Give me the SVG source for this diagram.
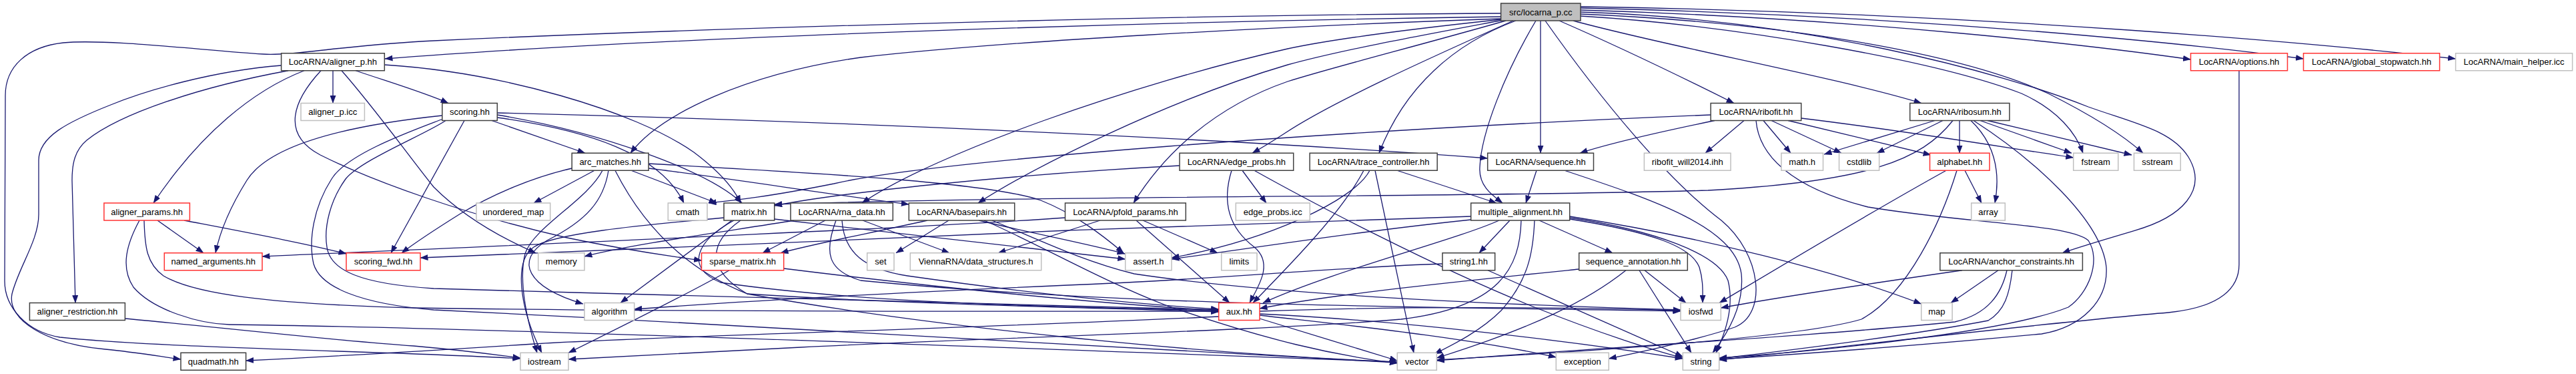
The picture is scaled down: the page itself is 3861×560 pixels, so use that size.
<svg xmlns="http://www.w3.org/2000/svg" width="3861" height="560" viewBox="0 0 3861 560">
<style>
.e{fill:none;stroke:#191970;stroke-width:1.3;marker-end:url(#a)}
rect{stroke-width:1.5}
.nb{fill:#fff;stroke:#404040}
.ng{fill:#fff;stroke:#bfbfbf}
.nr{fill:#fff;stroke:#ff3333}
.root{fill:#bfbfbf;stroke:#404040}
text{font-family:"Liberation Sans",Arial,Helvetica,sans-serif;font-size:13px;text-anchor:middle;fill:#000}
</style>
<defs>
<marker id="a" markerWidth="12" markerHeight="9" refX="11.5" refY="4.5" orient="auto" markerUnits="userSpaceOnUse"><path d="M0,0 L12,4.5 L0,9 z" fill="#191970"/></marker>
</defs>
<rect x="0" y="0" width="3861" height="560" fill="#fff" style="stroke:none"/>
<g id="edges">
<path class="e" d="M2250,25 C1700,33 1000,55 577,88"/>
<path class="e" d="M2250,20 C1800,22 1100,40 650,61 C520,67 440,84 394,81 C300,75 160,58 95,64 C40,70 8,100 8,143 L7,421 C7,460 40,497 90,505 C250,522 600,526 780,537"/>
<path class="e" d="M421.6,98 C320,106 220,135 166,157 C100,183 58,205 58,240 L58,321 C58,360 28,400 18,440 C10,480 70,515 158,523 C200,527 235,533 271,538"/>
<path class="e" d="M2250,28 C1900,40 1500,62 1290,86 C1120,110 990,170 945,229.25"/>
<path class="e" d="M2251,29 C2100,45 2000,58 1930,73 C1700,125 1400,230 1292,304"/>
<path class="e" d="M2253,30 C2120,55 2010,75 1930,97 C1750,150 1550,250 1466,304"/>
<path class="e" d="M2257,31 C2120,70 2000,100 1930,122 C1820,160 1745,230 1699,304"/>
<path class="e" d="M2268,31 C2170,75 2000,150 1925,200 C1905,213 1890,222 1877,229.25"/>
<path class="e" d="M2272,31 C2180,65 2105,130 2067,229.25"/>
<path class="e" d="M2302,31 C2255,110 2220,200 2218,250 C2216,278 2236,292 2252,304"/>
<path class="e" d="M2309,31 L2309,229.25"/>
<path class="e" d="M2316,31 C2400,150 2500,270 2580,330 C2640,380 2650,470 2600,490 C2540,510 2460,527 2411.3,537"/>
<path class="e" d="M2337,31 C2450,80 2540,125 2599,154.5"/>
<path class="e" d="M2358,31 C2500,70 2750,115 2880,154.5"/>
<path class="e" d="M2369,24 C2600,38 2900,90 3030,140 C3085,165 3112,200 3122,229.25"/>
<path class="e" d="M2369,21 C2700,35 2950,85 3070,140 C3140,175 3185,205 3212,229.25"/>
<path class="e" d="M2369,18 C2700,28 3000,108 3130,160 C3200,185 3255,195 3280,235 C3310,285 3270,325 3200,345 C3150,360 3115,370 3091,378.75"/>
<path class="e" d="M2369,15 C2800,28 3150,70 3283.5,89"/>
<path class="e" d="M2369,12 C2900,24 3300,68 3452.5,88"/>
<path class="e" d="M2369,10 C3000,20 3500,68 3680.6,88"/>
<path class="e" d="M499,105.75 L499,154.5"/>
<path class="e" d="M456,105.75 C380,135 300,200 230,304"/>
<path class="e" d="M432,105.75 C300,130 180,170 130,210 C112,225 108,245 108,270 L113,453.5"/>
<path class="e" d="M533,105.75 C590,125 640,140 672,154.5"/>
<path class="e" d="M576.3,97 C750,108 950,165 1040,228 C1080,258 1100,282 1110,304"/>
<path class="e" d="M481,105.75 C440,150 420,200 480,232 C560,272 700,322 850,356 C950,377 1010,384 1051.5,390"/>
<path class="e" d="M512,105.75 C560,160 610,230 650,280 C700,330 760,360 803,378.75"/>
<path class="e" d="M737,180.5 L877,229.25"/>
<path class="e" d="M662.8,173 C500,190 400,222 370,270 C345,310 330,345 323,378.75"/>
<path class="e" d="M696,180.5 L586,378.75"/>
<path class="e" d="M745.3,176 C880,195 990,230 1025,304"/>
<path class="e" d="M745.3,172 C900,198 1060,255 1112,304"/>
<path class="e" d="M745.3,169 C1200,180 1800,205 2229.7,237"/>
<path class="e" d="M668,180.5 C640,200 540,240 518,268 C495,300 485,340 490,370 C495,405 540,425 650,432 C1100,445 1600,458 1826.7,464"/>
<path class="e" d="M664,178 C620,195 520,230 497,268 C470,310 462,360 470,395 C480,430 540,455 650,464 C1200,490 1800,530 2094.3,543"/>
<path class="e" d="M891,255.25 L800,304"/>
<path class="e" d="M857.2,252 C800,265 740,290 690,320 C650,345 620,365 602,378.75"/>
<path class="e" d="M903,255.25 C880,300 800,340 787,380 C777,420 790,480 805,528.25"/>
<path class="e" d="M912,255.25 C905,300 880,330 820,360 C770,390 790,430 874,455"/>
<path class="e" d="M922,255.25 C960,330 1020,400 1120,440 C1400,458 1700,462 1826.7,467"/>
<path class="e" d="M946,255.25 L1074,304"/>
<path class="e" d="M972.1,252 C1100,268 1250,292 1362.3,306"/>
<path class="e" d="M972.1,245 C1200,258 1480,272 1560,300 C1610,320 1650,350 1684,378.75"/>
<path class="e" d="M1097,330 L930,453.5"/>
<path class="e" d="M1085,326 C950,338 830,350 800,370 C770,390 778,460 812,528.25"/>
<path class="e" d="M1160.7,328 C1350,350 1550,372 1686.7,388"/>
<path class="e" d="M1100,330 C1045,360 1025,400 1080,423 C1300,455 1600,460 1826.7,465"/>
<path class="e" d="M1110,330 C1060,365 1060,405 1120,440 C1400,490 1800,530 2094.3,542"/>
<path class="e" d="M1237,330 L1143,378.75"/>
<path class="e" d="M1293,330 L1423,378.75"/>
<path class="e" d="M1190,330 C1100,345 950,365 876,384"/>
<path class="e" d="M1262,330 C1265,378 1295,403 1360,413 C1550,440 1700,455 1826.7,463"/>
<path class="e" d="M1253,330 C1235,378 1240,405 1290,420 C1700,460 2200,460 2519,466"/>
<path class="e" d="M1422,330 L1343,378.75"/>
<path class="e" d="M1390,330 C1300,350 1220,365 1170,378.75"/>
<path class="e" d="M1467,330 C1550,350 1630,365 1686,380"/>
<path class="e" d="M1475,330 C1550,362 1650,420 1750,458 C1900,510 2000,532 2094.3,544"/>
<path class="e" d="M1487,330 C1560,360 1620,390 1700,410 C1900,440 2200,455 2519,464"/>
<path class="e" d="M1713,330 L1825,378.75"/>
<path class="e" d="M1703,330 L1843,453.5"/>
<path class="e" d="M1649,330 L1496,378.75"/>
<path class="e" d="M1596.5,326 C1400,340 800,366 393,384"/>
<path class="e" d="M1862,255.25 L1898,304"/>
<path class="e" d="M1846,255.25 C1832,300 1840,340 1880,370 C1910,395 1885,430 1873,453.5"/>
<path class="e" d="M1768,248 C1500,262 1250,290 1160.7,308"/>
<path class="e" d="M1880,255.25 C1960,300 2150,400 2300,460 C2400,500 2480,525 2522.3,536"/>
<path class="e" d="M2094,255.25 L2243,304"/>
<path class="e" d="M2061,255.25 L2119,528.25"/>
<path class="e" d="M2044,255.25 C2010,320 1930,400 1878,453.5"/>
<path class="e" d="M2053,255.25 C2030,300 1900,360 1756,386"/>
<path class="e" d="M2303,255.25 L2287,304"/>
<path class="e" d="M2345,255.25 C2480,300 2600,340 2610,410 C2615,460 2585,505 2567,528.25"/>
<path class="e" d="M2263,330 L2217,378.75"/>
<path class="e" d="M2307,330 L2417,378.75"/>
<path class="e" d="M2300,330 C2298,380 2290,420 2250,465 C2220,495 2180,515 2150,530"/>
<path class="e" d="M2352.7,328 C2480,348 2535,370 2547,400 C2553,420 2552,435 2552,453.5"/>
<path class="e" d="M2352.7,326 C2480,345 2575,380 2590,420 C2600,460 2585,500 2572,528.25"/>
<path class="e" d="M2352.7,324 C2550,355 2750,405 2879.7,455"/>
<path class="e" d="M2247,330 C2180,360 2000,405 1893,453.5"/>
<path class="e" d="M2204.7,329 C2050,345 1900,368 1756,388"/>
<path class="e" d="M2204.7,324 C2000,332 1800,338 1600,345 C1300,358 900,376 630,386"/>
<path class="e" d="M2280,330 C2278,400 2250,460 2100,478 C1900,495 1500,505 1200,520 C1000,530 900,535 852,538"/>
<path class="e" d="M2230,404.75 L2522.3,534"/>
<path class="e" d="M2162,395 C2000,400 1800,420 1600,427 C1300,440 1100,452 950.7,463"/>
<path class="e" d="M2465,404.75 L2527,453.5"/>
<path class="e" d="M2457,404.75 L2535,528.25"/>
<path class="e" d="M2437,404.75 C2380,450 2300,490 2153.3,536"/>
<path class="e" d="M2366.7,403 C2200,420 2000,440 1888,462"/>
<path class="e" d="M2995,404.75 L2924,453.5"/>
<path class="e" d="M2941,404.75 C2800,425 2650,448 2579.3,461"/>
<path class="e" d="M3008,404.75 C3000,440 2980,470 2930,482 C2700,505 2400,520 2153.3,540"/>
<path class="e" d="M3016,404.75 C3012,440 3005,465 2980,480 C2850,505 2650,528 2576.7,537"/>
<path class="e" d="M2945,255.25 L2970,304"/>
<path class="e" d="M2917,255.25 C2800,320 2650,410 2577,453.5"/>
<path class="e" d="M2933,255.25 C2910,330 2860,440 2790,478 C2700,505 2400,525 2153.3,539"/>
<path class="e" d="M2614,180.5 L2556,229.25"/>
<path class="e" d="M2643,180.5 L2684,229.25"/>
<path class="e" d="M2655,180.5 L2760,229.25"/>
<path class="e" d="M2680,180.5 L2894,232"/>
<path class="e" d="M2699.7,177 C2850,195 3000,220 3107.7,236"/>
<path class="e" d="M2564.1,172 C2000,195 1400,240 1250,275 C1150,295 1100,300 1062,304"/>
<path class="e" d="M2570,180.5 C2500,195 2420,212 2368,229.25"/>
<path class="e" d="M2632,180.5 C2636,230 2680,280 2800,310 C2950,335 3100,335 3130,360 C3150,390 3130,440 3100,460 C3000,500 2700,528 2576.7,536"/>
<path class="e" d="M2900,180.5 L2734,231"/>
<path class="e" d="M2912,180.5 L2813,229.25"/>
<path class="e" d="M2937,180.5 L2937,229.25"/>
<path class="e" d="M2954,180.5 C2985,210 3000,250 2990,304"/>
<path class="e" d="M2968,180.5 L3105,229.25"/>
<path class="e" d="M2979,180.5 L3195,232"/>
<path class="e" d="M2927,180.5 C2880,240 2800,272 2560,285 C2200,296 1600,292 1160.7,306"/>
<path class="e" d="M2958,180.5 C3050,240 3150,330 3157,400 C3160,450 3120,490 3060,500 C2900,515 2700,530 2576.7,538"/>
<path class="e" d="M3356,105.75 L3356,396 C3356,430 3330,460 3250,468 C3100,480 2800,515 2576.7,539"/>
<path class="e" d="M236,330 L305,378.75"/>
<path class="e" d="M276,330 C380,350 460,365 519,380"/>
<path class="e" d="M216,330 C217,370 220,395 245,413 C290,440 400,455 620,461 C1100,468 1600,466 1826.7,466"/>
<path class="e" d="M209,330 C190,365 180,400 200,430 C230,465 300,485 344,486 C700,490 1500,520 2094.3,542"/>
<path class="e" d="M187.4,477 C300,487 500,510 620,518 C700,525 750,532 780,536"/>
<path class="e" d="M1093,404.75 C1050,430 950,480 852,528.25"/>
<path class="e" d="M1174.7,402 C1400,430 1650,455 1826.7,465"/>
<path class="e" d="M1888,477 L2094.3,540"/>
<path class="e" d="M1888,472 C2000,485 2200,505 2332.3,535"/>
<path class="e" d="M1888,470 C2100,480 2350,510 2522.3,537"/>
<path class="e" d="M1888,466 C2100,458 2350,460 2519,465"/>
<path class="e" d="M1826.7,474 C1500,490 950,505 800,515 C600,528 450,536 368.6,540"/>
</g>
<g id="n_src"><rect class="root" x="2249.6" y="5" width="119.4" height="26"/><text x="2309.3" y="22.5">src/locarna_p.cc</text></g>
<g id="n_aligner_p"><rect class="nb" x="421.6" y="79.75" width="154.7" height="26"/><text x="498.95" y="97.25">LocARNA/aligner_p.hh</text></g>
<g id="n_options"><rect class="nr" x="3283.5" y="79.75" width="145" height="26"/><text x="3356" y="97.25">LocARNA/options.hh</text></g>
<g id="n_stopwatch"><rect class="nr" x="3452.5" y="79.75" width="204.1" height="26"/><text x="3554.55" y="97.25">LocARNA/global_stopwatch.hh</text></g>
<g id="n_main_helper"><rect class="ng" x="3680.6" y="79.75" width="175" height="26"/><text x="3768.1" y="97.25">LocARNA/main_helper.icc</text></g>
<g id="n_aligner_p_icc"><rect class="ng" x="451" y="154.5" width="95.4" height="26"/><text x="498.7" y="172">aligner_p.icc</text></g>
<g id="n_scoring"><rect class="nb" x="662.8" y="154.5" width="82.5" height="26"/><text x="704.05" y="172">scoring.hh</text></g>
<g id="n_ribofit"><rect class="nb" x="2564.1" y="154.5" width="135.6" height="26"/><text x="2631.9" y="172">LocARNA/ribofit.hh</text></g>
<g id="n_ribosum"><rect class="nb" x="2862.7" y="154.5" width="149.2" height="26"/><text x="2937.3" y="172">LocARNA/ribosum.hh</text></g>
<g id="n_arc_matches"><rect class="nb" x="857.2" y="229.25" width="114.9" height="26"/><text x="914.65" y="246.75">arc_matches.hh</text></g>
<g id="n_edge_probs"><rect class="nb" x="1768" y="229.25" width="170.7" height="26"/><text x="1853.35" y="246.75">LocARNA/edge_probs.hh</text></g>
<g id="n_trace"><rect class="nb" x="1963.1" y="229.25" width="191.1" height="26"/><text x="2058.65" y="246.75">LocARNA/trace_controller.hh</text></g>
<g id="n_sequence"><rect class="nb" x="2229.7" y="229.25" width="158.8" height="26"/><text x="2309.1" y="246.75">LocARNA/sequence.hh</text></g>
<g id="n_ribofit_will"><rect class="ng" x="2464.4" y="229.25" width="129.6" height="26"/><text x="2529.2" y="246.75">ribofit_will2014.ihh</text></g>
<g id="n_math_h"><rect class="ng" x="2669.9" y="229.25" width="62.6" height="26"/><text x="2701.2" y="246.75">math.h</text></g>
<g id="n_cstdlib"><rect class="ng" x="2756.5" y="229.25" width="60.1" height="26"/><text x="2786.55" y="246.75">cstdlib</text></g>
<g id="n_alphabet"><rect class="nr" x="2892.5" y="229.25" width="89.5" height="26"/><text x="2937.25" y="246.75">alphabet.hh</text></g>
<g id="n_fstream"><rect class="ng" x="3107.7" y="229.25" width="67.1" height="26"/><text x="3141.25" y="246.75">fstream</text></g>
<g id="n_sstream"><rect class="ng" x="3198.5" y="229.25" width="69.8" height="26"/><text x="3233.4" y="246.75">sstream</text></g>
<g id="n_aligner_params"><rect class="nr" x="155.9" y="304" width="128.5" height="26"/><text x="220.15" y="321.5">aligner_params.hh</text></g>
<g id="n_unordered_map"><rect class="ng" x="714" y="304" width="110.7" height="26"/><text x="769.35" y="321.5">unordered_map</text></g>
<g id="n_cmath"><rect class="ng" x="1001.3" y="304" width="58.7" height="26"/><text x="1030.65" y="321.5">cmath</text></g>
<g id="n_matrix"><rect class="nb" x="1085" y="304" width="75.7" height="26"/><text x="1122.85" y="321.5">matrix.hh</text></g>
<g id="n_rna_data"><rect class="nb" x="1185" y="304" width="153.3" height="26"/><text x="1261.65" y="321.5">LocARNA/rna_data.hh</text></g>
<g id="n_basepairs"><rect class="nb" x="1362.3" y="304" width="158.4" height="26"/><text x="1441.5" y="321.5">LocARNA/basepairs.hh</text></g>
<g id="n_pfold"><rect class="nb" x="1596.5" y="304" width="180.8" height="26"/><text x="1686.9" y="321.5">LocARNA/pfold_params.hh</text></g>
<g id="n_edge_probs_icc"><rect class="ng" x="1852.3" y="304" width="111" height="26"/><text x="1907.8" y="321.5">edge_probs.icc</text></g>
<g id="n_multiple_alignment"><rect class="nb" x="2204.7" y="304" width="148" height="26"/><text x="2278.7" y="321.5">multiple_alignment.hh</text></g>
<g id="n_array"><rect class="ng" x="2954.7" y="304" width="50.6" height="26"/><text x="2980" y="321.5">array</text></g>
<g id="n_named_arguments"><rect class="nr" x="246.3" y="378.75" width="146.7" height="26"/><text x="319.65" y="396.25">named_arguments.hh</text></g>
<g id="n_scoring_fwd"><rect class="nr" x="519" y="378.75" width="111" height="26"/><text x="574.5" y="396.25">scoring_fwd.hh</text></g>
<g id="n_memory"><rect class="ng" x="806.7" y="378.75" width="69.3" height="26"/><text x="841.35" y="396.25">memory</text></g>
<g id="n_sparse_matrix"><rect class="nr" x="1051.5" y="378.75" width="123.2" height="26"/><text x="1113.1" y="396.25">sparse_matrix.hh</text></g>
<g id="n_set"><rect class="ng" x="1299.7" y="378.75" width="40.3" height="26"/><text x="1319.85" y="396.25">set</text></g>
<g id="n_data_structures"><rect class="ng" x="1364.3" y="378.75" width="196.4" height="26"/><text x="1462.5" y="396.25">ViennaRNA/data_structures.h</text></g>
<g id="n_assert"><rect class="ng" x="1686.7" y="378.75" width="69.3" height="26"/><text x="1721.35" y="396.25">assert.h</text></g>
<g id="n_limits"><rect class="ng" x="1830.7" y="378.75" width="53.3" height="26"/><text x="1857.35" y="396.25">limits</text></g>
<g id="n_string1"><rect class="nb" x="2162" y="378.75" width="78.7" height="26"/><text x="2201.35" y="396.25">string1.hh</text></g>
<g id="n_sequence_annotation"><rect class="nb" x="2366.7" y="378.75" width="162.6" height="26"/><text x="2448" y="396.25">sequence_annotation.hh</text></g>
<g id="n_anchor_constraints"><rect class="nb" x="2907.8" y="378.75" width="213.6" height="26"/><text x="3014.6" y="396.25">LocARNA/anchor_constraints.hh</text></g>
<g id="n_aligner_restriction"><rect class="nb" x="44.4" y="453.5" width="143" height="26"/><text x="115.9" y="471">aligner_restriction.hh</text></g>
<g id="n_algorithm"><rect class="ng" x="876" y="453.5" width="74.7" height="26"/><text x="913.35" y="471">algorithm</text></g>
<g id="n_aux"><rect class="nr" x="1826.7" y="453.5" width="61.3" height="26"/><text x="1857.35" y="471">aux.hh</text></g>
<g id="n_iosfwd"><rect class="ng" x="2519" y="453.5" width="60.3" height="26"/><text x="2549.15" y="471">iosfwd</text></g>
<g id="n_map"><rect class="ng" x="2879.7" y="453.5" width="46.4" height="26"/><text x="2902.9" y="471">map</text></g>
<g id="n_quadmath"><rect class="nb" x="271" y="528.25" width="97.6" height="26"/><text x="319.8" y="545.75">quadmath.hh</text></g>
<g id="n_iostream"><rect class="ng" x="780" y="528.25" width="72" height="26"/><text x="816" y="545.75">iostream</text></g>
<g id="n_vector"><rect class="ng" x="2094.3" y="528.25" width="59" height="26"/><text x="2123.8" y="545.75">vector</text></g>
<g id="n_exception"><rect class="ng" x="2332.3" y="528.25" width="79" height="26"/><text x="2371.8" y="545.75">exception</text></g>
<g id="n_string"><rect class="ng" x="2522.3" y="528.25" width="54.4" height="26"/><text x="2549.5" y="545.75">string</text></g>
</svg>
